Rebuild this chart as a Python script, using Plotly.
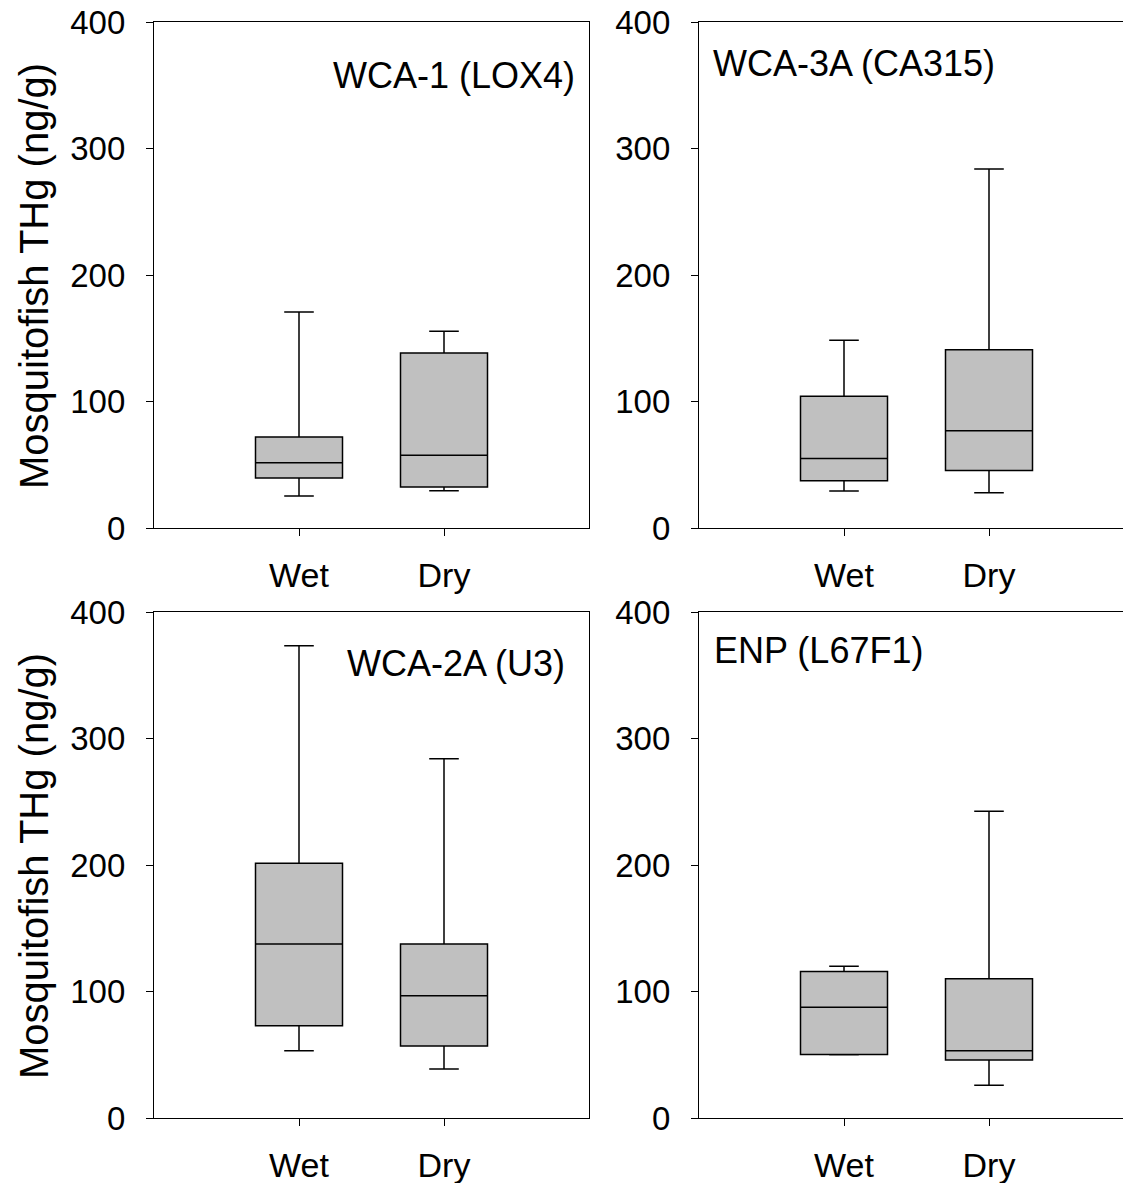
import plotly.graph_objects as go

W, H = 1123, 1183

categories = ["Wet", "Dry"]
panel_names = ["WCA-1 (LOX4)", "WCA-3A (CA315)", "WCA-2A (U3)", "ENP (L67F1)"]

# Box statistics per panel: [Wet, Dry]
lower_whisker = {
    "WCA-1 (LOX4)": [25.3, 29.4],
    "WCA-3A (CA315)": [29.2, 27.8],
    "WCA-2A (U3)": [53.1, 38.7],
    "ENP (L67F1)": [50.0, 25.9],
}
q1_vals = {
    "WCA-1 (LOX4)": [39.5, 32.4],
    "WCA-3A (CA315)": [37.3, 45.5],
    "WCA-2A (U3)": [73.0, 56.9],
    "ENP (L67F1)": [50.1, 45.8],
}
median_vals = {
    "WCA-1 (LOX4)": [51.5, 57.5],
    "WCA-3A (CA315)": [55.0, 76.8],
    "WCA-2A (U3)": [137.6, 96.7],
    "ENP (L67F1)": [87.5, 53.1],
}
q3_vals = {
    "WCA-1 (LOX4)": [71.9, 138.4],
    "WCA-3A (CA315)": [104.1, 140.9],
    "WCA-2A (U3)": [201.4, 137.6],
    "ENP (L67F1)": [115.8, 110.1],
}
upper_whisker = {
    "WCA-1 (LOX4)": [170.8, 155.6],
    "WCA-3A (CA315)": [148.5, 283.7],
    "WCA-2A (U3)": [373.3, 283.9],
    "ENP (L67F1)": [119.9, 242.5],
}

y_ticks = [0, 100, 200, 300, 400]
y_title = "Mosquitofish THg (ng/g)"

FONT = "Liberation Sans, Arial, sans-serif"

# pixel layout of each panel: (left, right, top, bottom)
panels_px = [
    (154, 589, 22, 528),
    (699, 1134, 22, 528),
    (154, 589, 612, 1118),
    (699, 1134, 612, 1118),
]

fig = go.Figure()

for i, name in enumerate(panel_names):
    ax = "" if i == 0 else str(i + 1)
    fig.add_trace(go.Box(
        x=categories,
        q1=q1_vals[name],
        median=median_vals[name],
        q3=q3_vals[name],
        lowerfence=lower_whisker[name],
        upperfence=upper_whisker[name],
        width=0.6,
        whiskerwidth=0.34,
        fillcolor="#c0c0c0",
        line=dict(color="black", width=1.5),
        boxpoints=False,
        hoverinfo="skip",
        showlegend=False,
        xaxis="x" + ax,
        yaxis="y" + ax,
    ))

    l, r, t, b = panels_px[i]
    r_vis = min(r, W)
    dom_x = [l / W, r_vis / W]
    dom_y = [1 - b / H, 1 - t / H]
    xr = [-1, -1 + 3 * (r_vis - l) / (r - l)]
    right_col = (i % 2 == 1)

    fig.update_layout({
        "xaxis" + ax: dict(
            domain=dom_x, range=xr, type="category",
            showline=True, linecolor="black", linewidth=1.3,
            mirror=True, ticks="outside", ticklen=7, tickwidth=1.3,
            tickcolor="black", showgrid=False, zeroline=False,
            tickfont=dict(family=FONT, size=34, color="black"),
            ticklabelstandoff=10, automargin=False,
            anchor="y" + ax, fixedrange=True,
        ),
        "yaxis" + ax: dict(
            domain=dom_y, range=[0, 400],
            tickmode="array", tickvals=y_ticks,
            ticktext=[str(v) for v in y_ticks],
            showline=True, linecolor="black", linewidth=1.3,
            mirror=(not right_col), ticks="outside", ticklen=7, tickwidth=1.3,
            tickcolor="black", showgrid=False, zeroline=False,
            tickfont=dict(family=FONT, size=33, color="black"),
            ticklabelstandoff=14, automargin=False,
            anchor="x" + ax, fixedrange=True,
        ),
    })

# panel labels (pixel positions)
label_pos = [
    ("WCA-1 (LOX4)", 577, 75, "right"),
    ("WCA-3A (CA315)", 711, 63, "left"),
    ("WCA-2A (U3)", 567, 663, "right"),
    ("ENP (L67F1)", 712, 650, "left"),
]
annotations = []
for text, px, py, anc in label_pos:
    annotations.append(dict(
        text=text, x=px / W, y=1 - py / H, xref="paper", yref="paper",
        xanchor=anc, yanchor="middle", showarrow=False,
        font=dict(family=FONT, size=36, color="black"),
    ))

for cy in [276, 866]:
    annotations.append(dict(
        text=y_title, x=34 / W, y=1 - cy / H, xref="paper", yref="paper",
        xanchor="center", yanchor="middle", showarrow=False, textangle=-90,
        font=dict(family=FONT, size=40, color="black"),
    ))

fig.update_layout(
    width=W, height=H,
    margin=dict(l=0, r=0, t=0, b=0, pad=0, autoexpand=False),
    paper_bgcolor="white", plot_bgcolor="white",
    annotations=annotations,
    showlegend=False,
)

fig.write_html("out.html", config={"displayModeBar": False})
